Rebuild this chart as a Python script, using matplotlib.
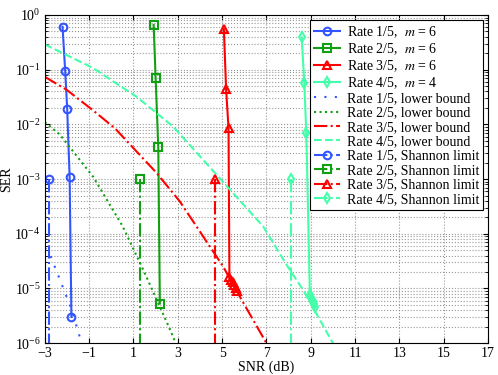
import matplotlib.pyplot as plt
from matplotlib.ticker import LogLocator, NullFormatter

plt.rcParams['font.family'] = ['Liberation Serif', 'DejaVu Serif']
plt.rcParams['mathtext.fontset'] = 'stix'

# Simulated SER, one series per code rate
snr_r15 = [-2.2, -2.08, -1.99, -1.88, -1.8]
ser_r15 = [0.61, 0.093, 0.019, 1.07e-3, 3.0e-6]
snr_r25 = [1.91, 2.0, 2.12, 2.19]
ser_r25 = [0.66, 0.071, 3.8e-3, 5.3e-6]
snr_r35 = [5.08, 5.18, 5.29, 5.33, 5.4, 5.47, 5.54, 5.61, 5.67]
ser_r35 = [0.55, 0.044, 8.5e-3, 1.6e-5, 1.45e-5, 1.3e-5, 1.15e-5, 1.0e-5, 8.8e-6]
snr_r45 = [8.59, 8.71, 8.8, 8.96, 9.02, 9.08, 9.14, 9.2]
ser_r45 = [0.39, 0.056, 6.9e-3, 7.6e-6, 6.6e-6, 5.8e-6, 5.1e-6, 4.5e-6]

# Lower bounds
lb_snr_r15 = [-3.0, -2.77, -2.32, -1.79, -1.34]
lb_ser_r15 = [5.6e-5, 4.2e-5, 1.45e-5, 4.1e-6, 1.0e-6]
lb_snr_r25 = [-3.0, -2.32, -0.82, 0.5, 1.44, 2.57, 2.91]
lb_ser_r25 = [1.1e-2, 6.5e-3, 1.1e-3, 1.4e-4, 2.2e-5, 2.1e-6, 1.0e-6]
lb_snr_r35 = [-3.0, -2.02, -0.82, 0.16, 2.04, 3.09, 3.85, 5.05, 5.88, 7.0]
lb_ser_r35 = [7.4e-2, 4.3e-2, 1.8e-2, 8.5e-3, 1.3e-3, 3.9e-4, 1.35e-4, 2.5e-5, 6.2e-6, 1.0e-6]
lb_snr_r45 = [-3.0, -0.82, 1.14, 2.79, 4.75, 6.86, 7.91, 8.66, 10.0]
lb_ser_r45 = [0.29, 0.107, 3.2e-2, 9.1e-3, 1.2e-3, 1.35e-4, 2.7e-5, 9.3e-6, 1.0e-6]

# Shannon limits
shannon_snr = [-2.8, 1.29, 4.69, 8.09]
shannon_ser = [1e-3, 1e-7]

labels_sim = ['Rate 1/5,  $m$ = 6', 'Rate 2/5,  $m$ = 6', 'Rate 3/5,  $m$ = 6', 'Rate 4/5,  $m$ = 4']
labels_lb = ['Rate 1/5, lower bound', 'Rate 2/5, lower bound', 'Rate 3/5, lower bound', 'Rate 4/5, lower bound']
labels_sh = ['Rate 1/5, Shannon limit', 'Rate 2/5, Shannon limit', 'Rate 3/5, Shannon limit', 'Rate 4/5, Shannon limit']

colors = ['#3355ff', '#11a011', '#ff0000', '#44ffaa']
markers = ['o', 's', '^', 'd']

fig = plt.figure(figsize=(4.98, 3.75), dpi=100)
ax = fig.add_axes([0.09, 0.085, 0.89, 0.875])

sims = [(snr_r15, ser_r15), (snr_r25, ser_r25), (snr_r35, ser_r35), (snr_r45, ser_r45)]
for (x, y), c, m, lab in zip(sims, colors, markers, labels_sim):
    ax.plot(x, y, '-', color=c, marker=m, ms=5.5, mfc='none', mew=1.5, lw=1.5, label=lab)

lbs = [(lb_snr_r15, lb_ser_r15), (lb_snr_r25, lb_ser_r25), (lb_snr_r35, lb_ser_r35), (lb_snr_r45, lb_ser_r45)]
styles = [(0, (1, 4)), ':', '-.', '--']
for (x, y), c, ls, lab in zip(lbs, colors, styles, labels_lb):
    ax.plot(x, y, color=c, ls=ls, lw=1.5, label=lab)

for s, c, m, lab in zip(shannon_snr, colors, markers, labels_sh):
    ax.plot([s, s], shannon_ser, '-.', color=c, marker=m, ms=5.5, mfc='none', mew=1.5,
            lw=1.5, markevery=[0], label=lab)

ax.set_yscale('log')
ax.set_xlim(-3, 17)
ax.set_ylim(1e-6, 1)
ax.set_xticks(range(-3, 18, 2))
ax.yaxis.set_major_locator(LogLocator(base=10, numticks=10))
ax.yaxis.set_minor_locator(LogLocator(base=10, subs=range(2, 10), numticks=20))
ax.yaxis.set_minor_formatter(NullFormatter())
ax.grid(True, which='major', ls=':', color='#999999', lw=0.8)
ax.grid(True, which='minor', axis='y', ls=':', color='#999999', lw=0.8)
ax.tick_params(which='both', direction='in', top=True, right=True, labelsize=10, pad=3)
ax.set_xlabel('SNR (dB)', fontsize=10, labelpad=0)
ax.set_ylabel('SER', fontsize=10, labelpad=1)

leg = ax.legend(loc='upper right', fontsize=10, fancybox=False, edgecolor='black',
                framealpha=1, handlelength=1.9, borderaxespad=0.35, labelspacing=0.1,
                borderpad=0.3, handletextpad=0.45)
leg.get_frame().set_linewidth(0.8)

plt.savefig('out.png', dpi=100)
